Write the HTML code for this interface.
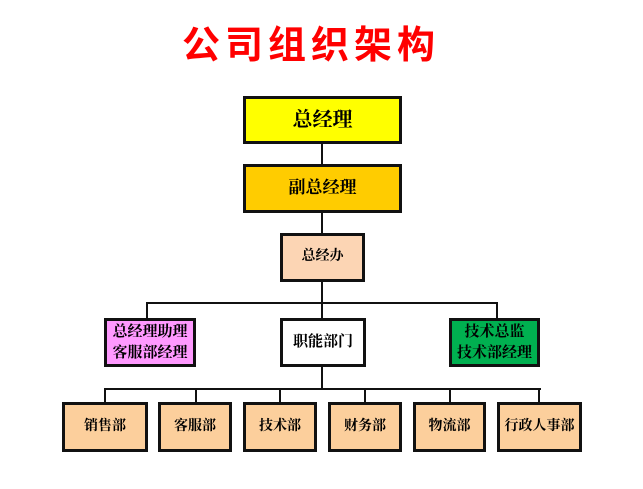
<!DOCTYPE html>
<html><head><meta charset="utf-8"><style>
body{margin:0;width:643px;height:489px;background:#fff;position:relative;overflow:hidden;font-family:"Liberation Sans","Noto Sans CJK SC",sans-serif}
.b{position:absolute;box-sizing:border-box;border:3px solid #111;display:flex;align-items:center;justify-content:center;text-align:center;font-weight:bold;color:#000;font-family:"Liberation Serif","Noto Serif CJK SC",serif;line-height:1.35}
.l{position:absolute;background:#111}
.t{position:absolute;left:180px;top:22px;width:262px;text-align:center;color:#f00;font-size:38px;font-weight:bold;letter-spacing:5px;font-family:"Liberation Sans","Noto Sans CJK SC",sans-serif;line-height:48px}
.s{background:#fccf9c;font-size:14px}
</style></head><body>
<div class="t">公司组织架构</div>
<div class="l" style="left:321px;top:144px;width:2px;height:20px"></div>
<div class="l" style="left:321px;top:213px;width:2px;height:20px"></div>
<div class="l" style="left:321px;top:282px;width:2px;height:36px"></div>
<div class="l" style="left:146px;top:302px;width:352px;height:2px"></div>
<div class="l" style="left:146px;top:302px;width:2px;height:16px"></div>
<div class="l" style="left:496px;top:302px;width:2px;height:16px"></div>
<div class="l" style="left:321px;top:367px;width:2px;height:22px"></div>
<div class="l" style="left:104px;top:388px;width:437px;height:2px"></div>
<div class="l" style="left:104px;top:388px;width:2px;height:14px"></div>
<div class="l" style="left:195px;top:388px;width:2px;height:14px"></div>
<div class="l" style="left:279px;top:388px;width:2px;height:14px"></div>
<div class="l" style="left:364px;top:388px;width:2px;height:14px"></div>
<div class="l" style="left:449px;top:388px;width:2px;height:14px"></div>
<div class="l" style="left:538px;top:388px;width:2px;height:14px"></div>
<div class="b" style="left:243px;top:96px;width:159px;height:48px;background:#ffff00;font-size:20px">总经理</div>
<div class="b" style="left:243px;top:164px;width:159px;height:49px;background:#ffcc00;font-size:17px">副总经理</div>
<div class="b" style="left:280px;top:233px;width:85px;height:49px;background:#fcd5b4;font-size:14px">总经办</div>
<div class="b" style="left:104px;top:318px;width:92px;height:49px;background:#ff99ff;font-size:15px">总经理助理<br>客服部经理</div>
<div class="b" style="left:280px;top:318px;width:86px;height:49px;background:#fff;font-size:15px">职能部门</div>
<div class="b" style="left:449px;top:318px;width:91px;height:49px;background:#00b050;font-size:15px">技术总监<br>技术部经理</div>
<div class="b s" style="left:62px;top:402px;width:86px;height:50px">销售部</div>
<div class="b s" style="left:158px;top:402px;width:74px;height:50px">客服部</div>
<div class="b s" style="left:243px;top:402px;width:74px;height:50px">技术部</div>
<div class="b s" style="left:328px;top:402px;width:74px;height:50px">财务部</div>
<div class="b s" style="left:413px;top:402px;width:73px;height:50px">物流部</div>
<div class="b s" style="left:497px;top:402px;width:85px;height:50px">行政人事部</div>
</body></html>
